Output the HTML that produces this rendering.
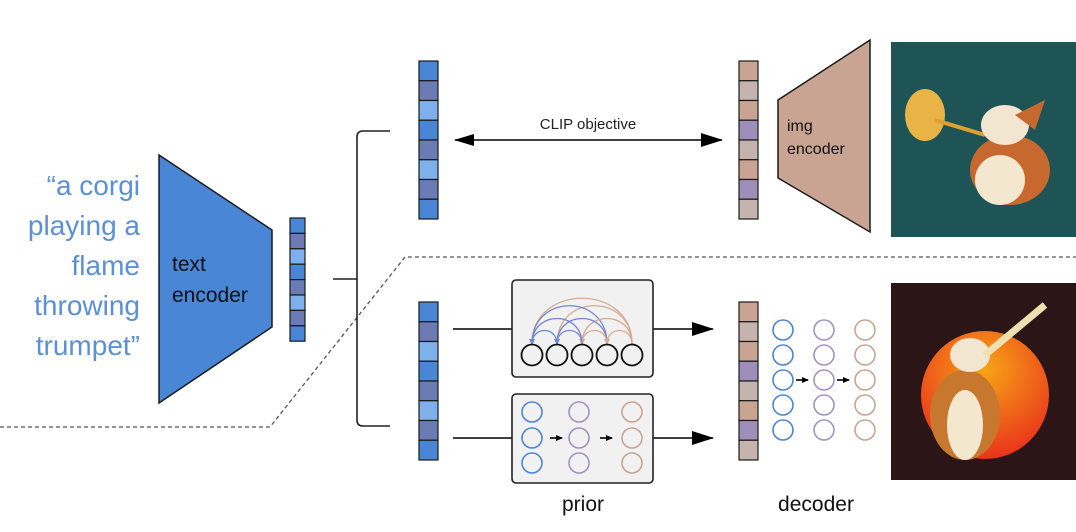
<!DOCTYPE html>
<html><head><meta charset="utf-8"><style>
html,body{margin:0;padding:0;background:#fff;}
svg{display:block;}
text{font-family:"Liberation Sans",sans-serif;}
</style></head><body>
<svg width="1076" height="532" viewBox="0 0 1076 532" xmlns="http://www.w3.org/2000/svg">
<defs>
<marker id="ah" markerWidth="10" markerHeight="8" refX="9" refY="4" orient="auto" markerUnits="userSpaceOnUse"><path d="M0,0 L10,4 L0,8 z" fill="#000"/></marker>
<marker id="ahs" markerWidth="7" markerHeight="6" refX="6" refY="3" orient="auto" markerUnits="userSpaceOnUse"><path d="M0,0 L7,3 L0,6 z" fill="#000"/></marker>
<marker id="big" markerWidth="22" markerHeight="14" refX="21" refY="7" orient="auto" markerUnits="userSpaceOnUse"><path d="M0,0 L22,7 L0,14 z" fill="#000"/></marker>
<marker id="bigs" markerWidth="20" markerHeight="12" refX="1" refY="6" orient="auto" markerUnits="userSpaceOnUse"><path d="M20,0 L0,6 L20,12 z" fill="#000"/></marker>
<marker id="ab" markerWidth="6" markerHeight="6" refX="5" refY="3" orient="auto" markerUnits="userSpaceOnUse"><path d="M0,0 L6,3 L0,6 z" fill="#7a86cf"/></marker>
<marker id="ao" markerWidth="6" markerHeight="6" refX="5" refY="3" orient="auto" markerUnits="userSpaceOnUse"><path d="M0,0 L6,3 L0,6 z" fill="#d6ab92"/></marker>
<radialGradient id="sun" cx="0.5" cy="0.3" r="0.8"><stop offset="0" stop-color="#f7a417"/><stop offset="1" stop-color="#e8231c"/></radialGradient>
</defs>

<g fill="#5b8fd8" font-size="28" text-anchor="end">
<text x="140" y="195">“a corgi</text>
<text x="140" y="235">playing a</text>
<text x="140" y="275">flame</text>
<text x="140" y="315">throwing</text>
<text x="140" y="355">trumpet”</text>
</g>

<path d="M0,427 L270,427 L405,257 L1076,257" fill="none" stroke="#555" stroke-width="1.3" stroke-dasharray="4,3"/>

<polygon points="159,155 272,230 272,327 159,403" fill="#4a86d6" stroke="#1a1a1a" stroke-width="1.5"/>
<text x="172" y="271" font-size="21" fill="#111">text</text>
<text x="172" y="302" font-size="21" fill="#111">encoder</text>

<g stroke="#1a1a1a" stroke-width="1.2">
<rect x="290" y="218" width="15" height="15.4" fill="#4a86d6"/>
<rect x="290" y="233.4" width="15" height="15.4" fill="#6b7bb3"/>
<rect x="290" y="248.8" width="15" height="15.4" fill="#7eb1ec"/>
<rect x="290" y="264.2" width="15" height="15.4" fill="#4a86d6"/>
<rect x="290" y="279.6" width="15" height="15.4" fill="#6b7bb3"/>
<rect x="290" y="295" width="15" height="15.4" fill="#7eb1ec"/>
<rect x="290" y="310.4" width="15" height="15.4" fill="#6b7bb3"/>
<rect x="290" y="325.8" width="15" height="15.4" fill="#4a86d6"/>
</g>

<g fill="none" stroke="#222" stroke-width="1.6">
<path d="M333,279 L357,279"/>
<path d="M390,131 L363,131 Q357,131 357,137 L357,420 Q357,426 363,426 L390,426"/>
</g>

<g stroke="#1a1a1a" stroke-width="1.2">
<g id="lv">
<rect x="419" y="61" width="19" height="19.75" fill="#4a86d6"/>
<rect x="419" y="80.75" width="19" height="19.75" fill="#6b7bb3"/>
<rect x="419" y="100.5" width="19" height="19.75" fill="#7eb1ec"/>
<rect x="419" y="120.25" width="19" height="19.75" fill="#4a86d6"/>
<rect x="419" y="140" width="19" height="19.75" fill="#6b7bb3"/>
<rect x="419" y="159.75" width="19" height="19.75" fill="#7eb1ec"/>
<rect x="419" y="179.5" width="19" height="19.75" fill="#6b7bb3"/>
<rect x="419" y="199.25" width="19" height="19.75" fill="#4a86d6"/>
</g>
<use href="#lv" y="241"/>
<g id="rv">
<rect x="739" y="61" width="19" height="19.75" fill="#c9a492"/>
<rect x="739" y="80.75" width="19" height="19.75" fill="#c5b3ae"/>
<rect x="739" y="100.5" width="19" height="19.75" fill="#c9a492"/>
<rect x="739" y="120.25" width="19" height="19.75" fill="#9d8fb9"/>
<rect x="739" y="140" width="19" height="19.75" fill="#c5b3ae"/>
<rect x="739" y="159.75" width="19" height="19.75" fill="#c9a492"/>
<rect x="739" y="179.5" width="19" height="19.75" fill="#9d8fb9"/>
<rect x="739" y="199.25" width="19" height="19.75" fill="#c5b3ae"/>
</g>
<use href="#rv" y="241"/>
</g>

<line x1="455" y1="140" x2="722" y2="140" stroke="#000" stroke-width="1.5" marker-end="url(#big)" marker-start="url(#bigs)"/>
<text x="588" y="129" font-size="15" text-anchor="middle" fill="#222">CLIP objective</text>

<polygon points="778,100 870,40 870,232 778,178" fill="#c9a492" stroke="#1a1a1a" stroke-width="1.5"/>
<text x="787" y="131" font-size="16" fill="#111">img</text>
<text x="787" y="154" font-size="16" fill="#111">encoder</text>

<rect x="891" y="42" width="185" height="195" fill="#1f5457"/>
<ellipse cx="925" cy="115" rx="20" ry="26" fill="#f4b844" opacity="0.95"/>
<path d="M935,120 L985,135" stroke="#e0a030" stroke-width="4"/>
<ellipse cx="1010" cy="170" rx="40" ry="35" fill="#c7682e"/>
<ellipse cx="1000" cy="180" rx="25" ry="25" fill="#f3e7cf"/>
<ellipse cx="1005" cy="125" rx="24" ry="20" fill="#f2e6d0"/>
<path d="M1015,115 L1045,100 L1035,130 z" fill="#c7682e"/>

<rect x="891" y="283" width="185" height="197" fill="#2c1517"/>
<circle cx="985" cy="395" r="64" fill="url(#sun)"/>
<ellipse cx="965" cy="415" rx="35" ry="45" fill="#c7782e"/>
<ellipse cx="965" cy="425" rx="18" ry="35" fill="#f3e7cf"/>
<ellipse cx="970" cy="355" rx="20" ry="17" fill="#f2e6d0"/>
<path d="M985,355 L1045,305" stroke="#efe0b0" stroke-width="7"/>

<g stroke="#000" stroke-width="1.6" fill="none">
<line x1="453" y1="329" x2="512" y2="329"/>
<line x1="453" y1="438" x2="512" y2="438"/>
<line x1="653" y1="329" x2="713" y2="329" marker-end="url(#big)"/>
<line x1="653" y1="438" x2="713" y2="438" marker-end="url(#big)"/>
</g>

<rect x="512" y="280" width="141" height="97" rx="4" fill="#f1f1f1" stroke="#222" stroke-width="1.6"/>
<rect x="512" y="394" width="141" height="89" rx="4" fill="#f1f1f1" stroke="#222" stroke-width="1.6"/>

<g fill="none" stroke-width="1.3">
<path d="M632,344 C632,283 532,283 532,344" stroke="#d6ab92" marker-end="url(#ao)"/>
<path d="M632,344 C632,293 557,293 557,344" stroke="#d6ab92" marker-end="url(#ao)"/>
<path d="M607,344 C607,293 532,293 532,344" stroke="#7a86cf" marker-end="url(#ab)"/>
<path d="M632,344 C632,310 582,310 582,344" stroke="#d6ab92" marker-end="url(#ao)"/>
<path d="M607,344 C607,310 557,310 557,344" stroke="#7a86cf" marker-end="url(#ab)"/>
<path d="M582,344 C582,310 532,310 532,344" stroke="#7a86cf" marker-end="url(#ab)"/>
<path d="M632,344 C632,326 607,326 607,344" stroke="#d6ab92" marker-end="url(#ao)"/>
<path d="M607,344 C607,326 582,326 582,344" stroke="#d6ab92" marker-end="url(#ao)"/>
<path d="M582,344 C582,326 557,326 557,344" stroke="#7a86cf" marker-end="url(#ab)"/>
<path d="M557,344 C557,326 532,326 532,344" stroke="#5b8fd8" marker-end="url(#ab)"/>
</g>
<g fill="none" stroke="#111" stroke-width="1.8">
<circle cx="532" cy="355" r="10.5"/><circle cx="557" cy="355" r="10.5"/><circle cx="582" cy="355" r="10.5"/><circle cx="607" cy="355" r="10.5"/><circle cx="632" cy="355" r="10.5"/>
</g>

<g fill="none" stroke-width="1.6">
<g stroke="#4a86d6"><circle cx="532" cy="412" r="10"/><circle cx="532" cy="438" r="10"/><circle cx="532" cy="463" r="10"/></g>
<g stroke="#a093c4"><circle cx="579" cy="412" r="10"/><circle cx="579" cy="438" r="10"/><circle cx="579" cy="463" r="10"/></g>
<g stroke="#c9a492"><circle cx="632" cy="412" r="10"/><circle cx="632" cy="438" r="10"/><circle cx="632" cy="463" r="10"/></g>
</g>
<g stroke="#000" stroke-width="1.6">
<line x1="550" y1="438" x2="562" y2="438" marker-end="url(#ahs)"/>
<line x1="600" y1="438" x2="612" y2="438" marker-end="url(#ahs)"/>
<line x1="796" y1="380" x2="808" y2="380" marker-end="url(#ahs)"/>
<line x1="837" y1="380" x2="849" y2="380" marker-end="url(#ahs)"/>
</g>

<g fill="none" stroke-width="1.6">
<g stroke="#4a86d6"><circle cx="783" cy="330" r="10"/><circle cx="783" cy="355" r="10"/><circle cx="783" cy="380" r="10"/><circle cx="783" cy="405" r="10"/><circle cx="783" cy="430" r="10"/></g>
<g stroke="#a093c4"><circle cx="824" cy="330" r="10"/><circle cx="824" cy="355" r="10"/><circle cx="824" cy="380" r="10"/><circle cx="824" cy="405" r="10"/><circle cx="824" cy="430" r="10"/></g>
<g stroke="#c9a492"><circle cx="865" cy="330" r="10"/><circle cx="865" cy="355" r="10"/><circle cx="865" cy="380" r="10"/><circle cx="865" cy="405" r="10"/><circle cx="865" cy="430" r="10"/></g>
</g>

<text x="583" y="511" font-size="21" text-anchor="middle" fill="#111">prior</text>
<text x="816" y="511" font-size="21" text-anchor="middle" fill="#111">decoder</text>
</svg>
</body></html>
